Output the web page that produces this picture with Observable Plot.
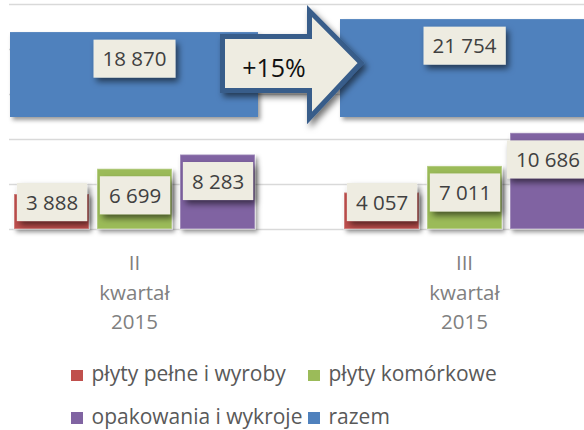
<!DOCTYPE html>
<html><head><meta charset="utf-8">
<script src="https://cdn.jsdelivr.net/npm/d3@7"></script>
<script src="https://cdn.jsdelivr.net/npm/@observablehq/plot@0.6"></script>
<style>
html,body{margin:0;padding:0;background:#fff;}
#chart{position:relative;width:584px;height:430px;overflow:hidden;background:#fff;font-family:"Open Sans",sans-serif;}
#chart svg{position:absolute;left:0;top:0;}
#legend{position:absolute;left:71px;top:352px;display:grid;grid-template-columns:237px auto;grid-auto-rows:42.5px;font-size:21px;line-height:22px;color:#595959;white-space:nowrap;}
#legend .item{display:flex;align-items:center;}
#legend .sw{display:inline-block;width:11.5px;height:11.5px;margin-right:9px;flex:none;position:relative;top:2px;}
</style></head><body><div id="chart"></div>
<script>
// ---- data ----
const quarters = ["II kwartał 2015", "III kwartał 2015"];
const seriesNames = ["płyty pełne i wyroby", "płyty komórkowe", "opakowania i wykroje", "razem"];
const plytyPelne = [3888, 4057];
const plytyKomorkowe = [6699, 7011];
const opakowania = [8283, 10686];
const razem = [18870, 21754];
const seriesColors = ["#C0504D", "#9BBB59", "#8064A2", "#4F81BD"];
const changeLabel = "+15%";
const gridTicks = [0, 5000, 10000, 15000, 20000, 25000];

// ---- tables built from the arrays ----
const small = [];
[plytyPelne, plytyKomorkowe, opakowania].forEach((arr, si) =>
  arr.forEach((v, qi) => small.push({q: quarters[qi], s: seriesNames[si], v})));
const totals = razem.map((v, qi) => ({q: quarters[qi], v}));

const fmt = d3.formatLocale({decimal: ",", thousands: " ", grouping: [3]}).format(",d");
const FONT = "Open Sans";
const baseStyle = {background: "transparent", maxWidth: "none", overflow: "visible", fontFamily: FONT};

// layout
const W = 588, ML = 9, TOP = 4, BASE = 229;
const yMax = 25000;
const pxPerUnit = (BASE - TOP) / yMax;
const labelOffset = 27;           // label centre below bar end (px)
const labelFloor = (labelOffset + 26.5) / pxPerUnit; // keep labels inside the plot

const chart = document.getElementById("chart");

// grid layer
const gridPlot = Plot.plot({
  width: 584, height: 240, marginLeft: ML, marginRight: 0, marginTop: TOP, marginBottom: 240 - BASE,
  y: {domain: [0, yMax], axis: null},
  style: baseStyle,
  marks: [Plot.ruleY(gridTicks, {stroke: "#D9D9D9", strokeWidth: 1.4})]
});

// small bars layer
const mainPlot = Plot.plot({
  width: W, height: 345, marginLeft: ML, marginRight: 0, marginTop: TOP, marginBottom: 345 - BASE,
  fx: {domain: quarters, paddingInner: 0.25, paddingOuter: 0, axis: null},
  x: {domain: seriesNames.slice(0, 3), paddingInner: 0.1, paddingOuter: 0.04, axis: null},
  y: {domain: [0, yMax], axis: null},
  color: {domain: seriesNames, range: seriesColors},
  style: baseStyle,
  marks: [
    Plot.barY(small, {fx: "q", x: "s", y: "v", fill: "s", stroke: "#fff", strokeOpacity: 0.35, strokeWidth: 1.5}),
    Plot.text(small, {fx: "q", x: "s", y: d => Math.max(d.v, labelFloor), dy: labelOffset,
      text: d => fmt(d.v), fontSize: 20.5, fill: "#404040"}),
    Plot.text(quarters, {fx: d => d, text: d => d.split(" ").join("\n"), frameAnchor: "bottom",
      lineAnchor: "top", dy: 20, lineHeight: 1.44, fontSize: 20.5, fill: "#808080"})
  ]
});

// totals layer (own scale)
const TB = 117, TT = 4.5;
const totalsPlot = Plot.plot({
  width: W, height: 240, marginLeft: ML, marginRight: 0, marginTop: TT, marginBottom: 240 - TB,
  x: {domain: quarters, paddingInner: 0.25, paddingOuter: 0, axis: null},
  y: {domain: [0, yMax], axis: null},
  style: baseStyle,
  marks: [
    Plot.barY(totals, {x: "q", y: "v", fill: seriesColors[3]}),
    Plot.text(totals, {x: "q", y: "v", dy: labelOffset, text: d => fmt(d.v), fontSize: 20.5, fill: "#404040"})
  ]
});

chart.append(gridPlot, mainPlot, totalsPlot);

const NS = "http://www.w3.org/2000/svg";
function addFilters(svg, id) {
  const defs = document.createElementNS(NS, "defs");
  defs.innerHTML = `
    <filter id="${id}-bar" x="-20%" y="-20%" width="150%" height="150%">
      <feDropShadow dx="2.5" dy="3" stdDeviation="2" flood-color="#000" flood-opacity="0.4"/>
    </filter>
    <filter id="${id}-box" x="-30%" y="-30%" width="170%" height="190%">
      <feDropShadow dx="3" dy="4" stdDeviation="3" flood-color="#000" flood-opacity="0.55"/>
    </filter>`;
  svg.insertBefore(defs, svg.firstChild);
}
function decorate(svg, id) {
  addFilters(svg, id);
  svg.querySelectorAll('g[aria-label="bar"] rect').forEach(r => r.setAttribute("filter", `url(#${id}-bar)`));
  svg.querySelectorAll('g[aria-label="text"] text').forEach(t => {
    if (!/^[\d\s\u00a0]+$/.test(t.textContent)) return;
    const b = t.getBBox();
    const r = document.createElementNS(NS, "rect");
    const cy = b.y + b.height / 2 + 0.5;
    r.setAttribute("x", b.x - 9);
    r.setAttribute("width", b.width + 18);
    r.setAttribute("y", cy - 19);
    r.setAttribute("height", 38);
    r.setAttribute("fill", "#EEECE1");
    r.setAttribute("stroke", "none");
    r.setAttribute("filter", `url(#${id}-box)`);
    if (t.getAttribute("transform")) r.setAttribute("transform", t.getAttribute("transform"));
    t.parentNode.insertBefore(r, t);
  });
}
decorate(mainPlot, "m");
decorate(totalsPlot, "t");

// change arrow annotation
const g = document.createElementNS(NS, "g");
g.innerHTML = `
  <path d="M222.5,36.5 H309.5 V11 L361,63 L309.5,118 V90.5 H222.5 Z" fill="#EEECE1" stroke="#385D8A"
        stroke-width="5" stroke-linejoin="miter" filter="url(#t-box)"/>
  <text x="274" y="77" text-anchor="middle" font-size="25" fill="#111" font-family="${FONT}">${changeLabel}</text>`;
totalsPlot.appendChild(g);

// legend
const legend = document.createElement("div");
legend.id = "legend";
seriesNames.forEach((name, i) => {
  const it = document.createElement("div");
  it.className = "item";
  it.innerHTML = `<span class="sw" style="background:${seriesColors[i]}"></span><span>${name}</span>`;
  legend.appendChild(it);
});
chart.appendChild(legend);
</script>
</body></html>
